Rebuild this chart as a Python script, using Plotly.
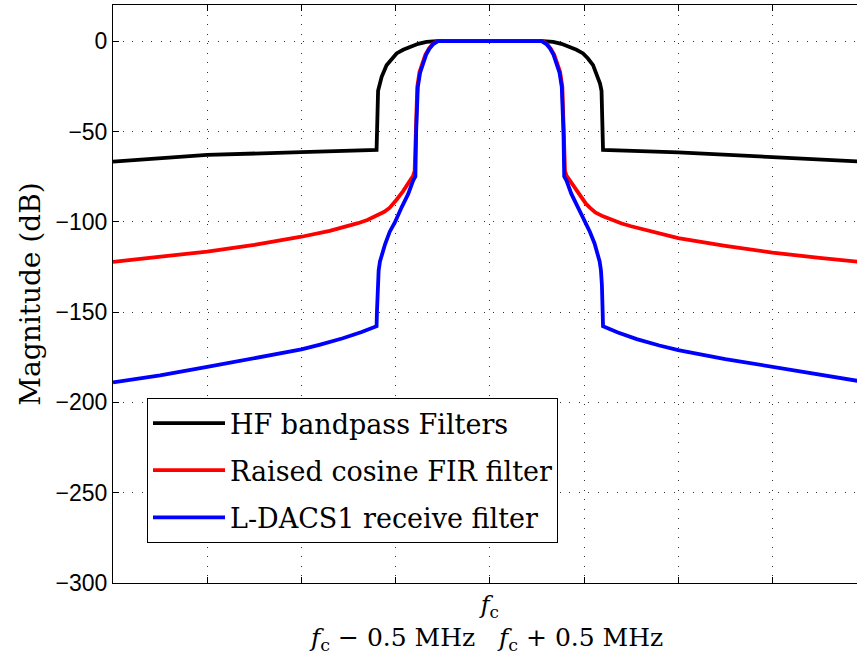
import plotly.graph_objects as go

# Frequency offsets from the carrier f_c, in MHz
hf_freq = [-2.0, -1.5, -1.0, -0.8, -0.601, -0.593, -0.585, -0.574, -0.548, -0.52, -0.495,
           -0.46, -0.424, -0.38, -0.336, -0.283, 0.283, 0.336, 0.38, 0.424, 0.46, 0.495,
           0.52, 0.548, 0.574, 0.585, 0.593, 0.601, 0.8, 1.0, 1.5, 2.0]
hf_mag = [-66.7, -63.0, -61.5, -60.9, -60.2, -27.5, -23.5, -19.8, -13.3, -9.5, -6.8,
          -4.8, -3.1, -1.5, -0.4, 0.0, 0.0, -0.4, -1.5, -3.1, -4.8, -6.8,
          -9.5, -13.3, -19.8, -23.5, -27.5, -60.2, -60.9, -61.6, -64.2, -66.9]

rc_freq = [-2.0, -1.75, -1.5, -1.25, -1.0, -0.85, -0.75, -0.7, -0.65, -0.601, -0.56, -0.531,
           -0.51, -0.495, -0.46, -0.433, -0.407, -0.399, -0.394, -0.385, -0.373, -0.358,
           -0.342, -0.323, -0.303, -0.279, 0.279, 0.303, 0.323, 0.342, 0.358, 0.373, 0.385,
           0.394, 0.399, 0.407, 0.433, 0.46, 0.495, 0.51, 0.531, 0.56, 0.601, 0.65, 0.7,
           0.75, 0.85, 1.0, 1.25, 1.5, 1.75, 2.0]
rc_mag = [-122.2, -119.5, -116.5, -112.8, -108.3, -105.0, -102.3, -100.8, -99.0, -96.8, -94.5, -92.2,
          -90.0, -87.8, -83.0, -78.5, -74.5, -72.0, -50.0, -25.4, -17.0, -12.0,
          -7.5, -4.1, -1.6, 0.0, 0.0, -1.6, -4.1, -7.5, -12.0, -17.0, -25.4,
          -50.0, -72.0, -74.5, -78.5, -83.0, -87.8, -90.0, -92.2, -94.8, -97.0, -99.2, -101.0,
          -102.5, -105.3, -109.1, -113.3, -117.1, -120.0, -122.6]

rx_freq = [-2.0, -1.75, -1.5, -1.25, -1.0, -0.9, -0.78, -0.68, -0.601, -0.599, -0.595, -0.590,
           -0.583, -0.572, -0.556, -0.531, -0.504, -0.468, -0.433, -0.407, -0.395, -0.391,
           -0.382, -0.37, -0.355, -0.338, -0.32, -0.30, -0.275, 0.275, 0.30, 0.32, 0.338,
           0.355, 0.37, 0.382, 0.391, 0.395, 0.407, 0.433, 0.468, 0.504, 0.531, 0.556,
           0.572, 0.583, 0.590, 0.595, 0.599, 0.601, 0.68, 0.78, 0.9, 1.0, 1.25, 1.5, 1.75, 2.0]
rx_mag = [-188.9, -185.0, -180.4, -175.8, -170.7, -168.0, -164.5, -161.0, -157.8, -150.0, -135.0, -127.0,
          -122.0, -117.5, -112.5, -105.5, -100.4, -92.0, -84.6, -77.2, -75.0, -50.0,
          -25.4, -17.5, -12.4, -7.5, -4.1, -1.6, 0.0, 0.0, -1.6, -4.1, -7.5,
          -12.4, -17.5, -25.4, -50.0, -75.0, -77.2, -84.6, -92.0, -100.4, -105.5, -112.0,
          -117.5, -122.0, -127.0, -135.0, -150.0, -157.8, -161.3, -165.0, -168.5, -171.1, -176.0, -180.4, -184.8, -188.9]

series_names = ["HF bandpass Filters", "Raised cosine FIR filter", "L-DACS1 receive filter"]
series_colors = ["#000000", "#ff0000", "#0000ff"]

y_ticks = [-300, -250, -200, -150, -100, -50, 0]
x_major_ticks = [0.0]
x_ticktext = ["<i>f</i><sub>c</sub>"]
x_minor_ticks = [-2.0, -1.5, -1.0, -0.5, 0.5, 1.0, 1.5, 2.0]
# second-row frequency labels (tick position, text)
x_side_ticks = [-0.5, 0.5]
x_side_text = ["<i>f</i><sub>c</sub> − 0.5 MHz", "<i>f</i><sub>c</sub> + 0.5 MHz"]

SERIF = "DejaVu Serif"
GRID_DASH = "1px,8.5px"

fig = go.Figure()
for i, (fx, fy) in enumerate([(hf_freq, hf_mag), (rc_freq, rc_mag), (rx_freq, rx_mag)]):
    fig.add_trace(go.Scatter(
        x=fx, y=fy, mode="lines", name=series_names[i],
        line=dict(color=series_colors[i], width=3.8),
        legendgroup=f"g{i}",
    ))

for xv, txt in zip(x_side_ticks, x_side_text):
    fig.add_annotation(
        x=xv, xref="x", y=-0.0975, yref="paper", yanchor="middle",
        text=txt, showarrow=False, xshift=-4,
        font=dict(family=SERIF, size=25, color="black"),
    )

fig.update_layout(
    width=857, height=655,
    margin=dict(l=113, r=0, t=5, b=72),
    paper_bgcolor="white", plot_bgcolor="white",
    showlegend=True,
    legend=dict(
        x=0.0457, y=0.32, xanchor="left", yanchor="top",
        bgcolor="white", bordercolor="black", borderwidth=1,
        font=dict(family=SERIF, size=27, color="black"),
        tracegroupgap=9,
        itemwidth=72,
    ),
    xaxis=dict(
        range=[-2.0, 1.949],
        tickvals=x_major_ticks, ticktext=x_ticktext,
        tickfont=dict(family=SERIF, size=24, color="black"),
        ticks="inside", ticklen=6, tickcolor="black", tickwidth=1,
        showline=True, linecolor="black", linewidth=1, mirror="ticks",
        showgrid=True, gridcolor="#333333", gridwidth=1, griddash=GRID_DASH,
        minor=dict(tickvals=x_minor_ticks, ticks="inside", ticklen=6, tickcolor="black",
                   tickwidth=1, showgrid=True, gridcolor="#333333", gridwidth=1,
                   griddash=GRID_DASH),
        zeroline=False,
    ),
    yaxis=dict(
        range=[-300, 20],
        tickvals=y_ticks,
        tickfont=dict(family="Liberation Sans", size=23, color="black"),
        ticks="inside", ticklen=6, tickcolor="black", tickwidth=1,
        showline=True, linecolor="black", linewidth=1, mirror=False,
        showgrid=True, gridcolor="#333333", gridwidth=1, griddash=GRID_DASH,
        zeroline=False,
        title=dict(text="Magnitude (dB)", font=dict(family=SERIF, size=28, color="black"),
                   standoff=6),
    ),
)

fig.write_html("out.html")
